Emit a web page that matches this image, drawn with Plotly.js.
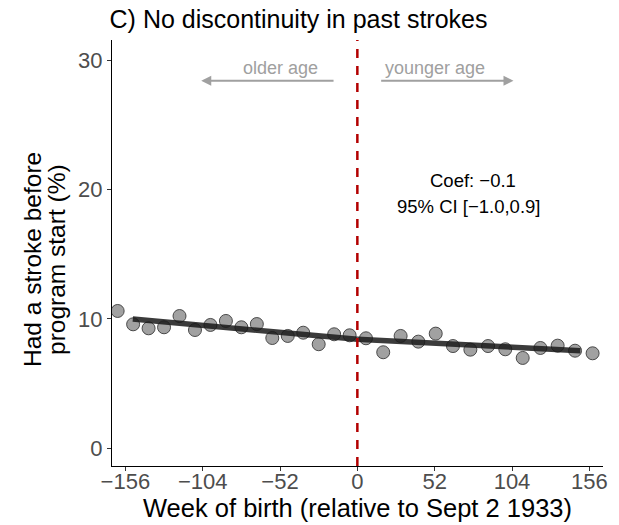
<!DOCTYPE html>
<html>
<head>
<meta charset="utf-8">
<script src="https://cdn.plot.ly/plotly-3.0.1.min.js"></script>
<style>html,body{margin:0;padding:0;background:#fff;}#chart{width:619px;height:525px;}</style>
</head>
<body>
<div id="chart"></div>
<script>
// Binned scatter (week of birth relative to Sept 2 1933, % had stroke)
const binWeeks = [-161.2,-150.8,-140.4,-130.0,-119.6,-109.2,-98.8,-88.4,-78.0,-67.6,-57.2,-46.8,-36.4,-26.0,-15.6,-5.2,
                  5.8,17.4,29.1,41.0,52.7,64.3,76.0,87.9,99.5,111.2,123.1,134.7,146.4,158.2];
const binValues = [10.61,9.58,9.27,9.35,10.22,9.14,9.53,9.84,9.35,9.6,8.52,8.68,8.93,8.04,8.81,8.73,
                   8.5,7.42,8.68,8.24,8.86,7.9,7.62,7.9,7.65,6.98,7.75,7.93,7.54,7.34];
// Fitted lines either side of the cutoff
const fitLeftX = [-151, 0];
const fitLeftY = [9.99, 8.42];
const fitRightX = [0, 150];
const fitRightY = [8.42, 7.54];
// Axis ticks
const xTickVals = [-156,-104,-52,0,52,104,156];
const xTickText = ["\u2212156","\u2212104","\u221252","0","52","104","156"];
const yTickVals = [0,10,20,30];
const yTickText = ["0","10","20","30"];
const yTitleLines = ["Had a stroke before", "program start (%)"];
const coefText = "Coef: \u22120.1";
const ciText = "95% CI [\u22121.0,0.9]";

const fitStyle = {color:'rgba(25,25,25,0.85)', width:5.5};
const traces = [
  {x:binWeeks, y:binValues, type:'scatter', mode:'markers',
   marker:{size:13, color:'rgba(145,145,145,0.85)', line:{color:'rgba(60,60,60,0.9)', width:1}},
   hoverinfo:'skip'},
  {x:fitLeftX, y:fitLeftY, type:'scatter', mode:'lines', line:fitStyle, hoverinfo:'skip'},
  {x:fitRightX, y:fitRightY, type:'scatter', mode:'lines', line:fitStyle, hoverinfo:'skip'}
];

const grey = '#a0a0a0';
const font = 'Liberation Sans, Arial, Helvetica, sans-serif';
const yTitleFont = {size:24.5, color:'#000', family:font};
const layout = {
  width:619, height:525,
  margin:{l:112, r:16, t:40, b:59},
  paper_bgcolor:'#fff', plot_bgcolor:'#fff',
  showlegend:false,
  font:{family:font, color:'#000'},
  title:{text:'C) No discontinuity in past strokes', x:0.177, xanchor:'left', y:0.963, yanchor:'middle',
         font:{size:25, color:'#000', family:font}},
  xaxis:{range:[-165,165.2], tickvals:xTickVals, ticktext:xTickText, showgrid:false, zeroline:false,
         showline:true, linecolor:'#000', linewidth:1.2, ticks:'outside', ticklen:4, tickcolor:'#333',
         ticklabelstandoff:-9,
         tickfont:{size:22, color:'#4d4d4d', family:font},
         title:{text:'Week of birth (relative to Sept 2 1933)', font:{size:25.5, color:'#000', family:font}, standoff:0}},
  yaxis:{range:[-1.37,31.55], tickvals:yTickVals, ticktext:yTickText, showgrid:false, zeroline:false,
         showline:true, linecolor:'#000', linewidth:1.2, ticks:'outside', ticklen:4, tickcolor:'#333',
         tickfont:{size:22, color:'#4d4d4d', family:font}},
  shapes:[
    {type:'line', xref:'x', yref:'paper', x0:0, x1:0, y0:0, y1:1, line:{color:'#b30000', width:2.5, dash:'9px,8px'}}
  ],
  annotations:[
    {x:0, y:0.4836, xref:'paper', yref:'paper', xanchor:'center', yanchor:'middle', xshift:-79,
     text:yTitleLines[0], textangle:-90, showarrow:false, font:yTitleFont},
    {x:0, y:0.4836, xref:'paper', yref:'paper', xanchor:'center', yanchor:'middle', xshift:-55,
     text:yTitleLines[1], textangle:-90, showarrow:false, font:yTitleFont},
    {x:-105, y:28.4, ax:-15, ay:28.4, axref:'x', ayref:'y', xref:'x', yref:'y', text:'', showarrow:true,
     arrowhead:2, arrowsize:1, arrowwidth:2, arrowcolor:grey},
    {x:105, y:28.4, ax:15, ay:28.4, axref:'x', ayref:'y', xref:'x', yref:'y', text:'', showarrow:true,
     arrowhead:2, arrowsize:1, arrowwidth:2, arrowcolor:grey},
    {x:-52, y:28.45, xref:'x', yref:'y', text:'older age', showarrow:false, yanchor:'bottom',
     font:{size:18, color:grey, family:font}},
    {x:52, y:28.45, xref:'x', yref:'y', text:'younger age', showarrow:false, yanchor:'bottom',
     font:{size:18, color:grey, family:font}},
    {x:78, y:20.66, xref:'x', yref:'y', text:coefText, showarrow:false,
     font:{size:18.5, color:'#000', family:font}},
    {x:75, y:18.65, xref:'x', yref:'y', text:ciText, showarrow:false,
     font:{size:18.5, color:'#000', family:font}}
  ]
};
Plotly.newPlot('chart', traces, layout, {displayModeBar:false, staticPlot:true});
</script>
</body>
</html>
